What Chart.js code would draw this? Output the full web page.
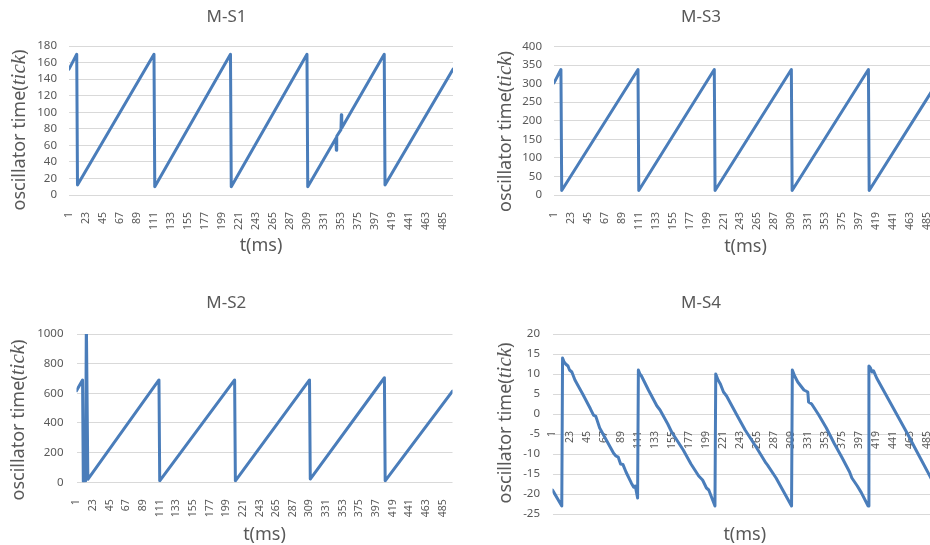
<!DOCTYPE html>
<html>
<head>
<meta charset="utf-8">
<script src="https://cdn.jsdelivr.net/npm/chart.js@4.4.1/dist/chart.umd.min.js"></script>
<style>
  body { margin: 0; width: 930px; height: 545px; overflow: hidden; background: #fff; position: relative; }
  canvas { position: absolute; }
</style>
</head>
<body>
<canvas id="ms1" width="465" height="272" style="left:0;top:0;width:465px;height:272px"></canvas>
<canvas id="ms3" width="480" height="272" style="left:465px;top:0;width:480px;height:272px"></canvas>
<canvas id="ms2" width="465" height="273" style="left:0;top:272px;width:465px;height:273px"></canvas>
<canvas id="ms4" width="480" height="273" style="left:465px;top:272px;width:480px;height:273px"></canvas>
<script>
// tick labels on the time axis
const timeTicks = [1, 23, 45, 67, 89, 111, 133, 155, 177, 199, 221, 243, 265, 287, 309, 331, 353, 375, 397, 419, 441, 463, 485];

// M-S1 (corners of the sawtooth + the glitch near 350 ms)
const s1Time = [1, 11, 12, 111, 112, 210, 211, 309, 310, 346.5, 347, 347.5, 353, 353.5, 354, 409, 410, 498];
const s1Tick = [152, 170, 12, 170, 10, 170, 10, 170, 10, 68.5, 54, 71, 79, 97, 81, 170, 12, 152];

// M-S3
const s3Time = [1, 10, 11, 110, 111, 209, 210, 309, 310, 409, 410, 498];
const s3Tick = [302, 338, 12, 338, 12, 338, 12, 338, 12, 338, 12, 302];

// M-S2 (spike at the start goes past the top of the axis)
const s2Time = [1, 9, 10, 13, 14, 16, 110, 111, 210, 211, 309, 310, 408, 409, 498];
const s2Tick = [618, 690, 5, 8, 1100, 20, 690, 10, 690, 10, 690, 22, 705, 10, 615];

// M-S4 (falling sawtooth, small steps along each ramp)
const s4Time = [1, 13, 14, 16, 18, 21, 23, 26, 30, 40, 50, 54, 57, 62, 70, 80, 83, 86, 89, 92, 96, 103, 106, 108, 111,
  112, 114, 116, 125, 136, 140, 150, 155, 160, 170, 180, 185, 190, 195, 200, 203, 211,
  212, 215, 218, 222, 226, 240, 250, 265, 277, 279, 290, 300, 310,
  311, 314, 318, 322, 326, 331, 332, 336, 345, 355, 365, 375, 385, 388, 395, 400, 409,
  410, 412, 414, 416, 420, 430, 440, 450, 460, 470, 480, 489, 498];
const s4Tick = [-19, -23, 14, 13, 12.5, 12, 11, 10.5, 8.5, 5, 1.3, -0.3, -0.6, -3.5, -6.3, -9.8, -10.5, -10.8, -12.5, -12.6, -14.5, -17.3, -18.3, -18, -21,
  11, 10, 9.5, 6, 2, 1, -2.5, -4.5, -6, -9, -12.5, -14, -15.5, -16.5, -18.5, -19, -23,
  10, 8.5, 7.5, 5.5, 4.5, -0.5, -4, -8.5, -12.3, -12.8, -16, -19.5, -23,
  11, 9.5, 8, 7, 6, 5.5, 3, 2.5, -0.2, -3.5, -7.3, -10.8, -14.5, -16, -18, -19.6, -23,
  12, 11.5, 10.5, 10.8, 9, 5.5, 2, -1.5, -5, -8.7, -12.3, -15.6, -19];

Chart.defaults.font.family = "'Noto Sans', sans-serif";
Chart.defaults.color = "#595959";

const lineColor = "#4a7dba";
const textColor = "#595959";

// axis titles drawn by hand so "tick" can be italic
const axisText = {
  id: "axisText",
  afterDraw(chart, args, o) {
    const ctx = chart.ctx;
    const a = chart.chartArea;
    ctx.save();
    ctx.fillStyle = textColor;
    ctx.textAlign = "center";
    ctx.textBaseline = "middle";
    ctx.font = "18px 'Noto Sans'";
    ctx.fillText("t(ms)", (a.left + a.right) / 2, o.xY);

    const parts = [
      ["oscillator time(", "18px 'Noto Sans'"],
      ["tick", "italic 21px 'Liberation Serif'"],
      [")", "18px 'Noto Sans'"],
    ];
    let total = 0;
    parts.forEach((p) => { ctx.font = p[1]; total += ctx.measureText(p[0]).width; });
    ctx.translate(o.yX, o.yY);
    ctx.rotate(-Math.PI / 2);
    ctx.textAlign = "left";
    ctx.textBaseline = "alphabetic";
    let x = -total / 2;
    parts.forEach((p) => {
      ctx.font = p[1];
      ctx.fillText(p[0], x, 0);
      x += ctx.measureText(p[0]).width;
    });
    ctx.restore();
  },
};

function panel(id, title, times, values, yMin, yMax, yStep, box) {
  const xScale = {
    type: "linear",
    min: 1,
    max: 498,
    grid: { display: false },
    border: { display: false },
    afterBuildTicks: (scale) => { scale.ticks = timeTicks.map((v) => ({ value: v })); },
    afterFit: (scale) => {
      scale.height = box.xHeight;
      scale.paddingLeft = 0;
      scale.paddingRight = 0;
    },
    ticks: {
      autoSkip: false,
      minRotation: 90,
      maxRotation: 90,
      padding: 9,
      color: textColor,
      font: { size: 10.5 },
      callback: (v) => String(v),
    },
  };
  if (box.xAtZero) xScale.position = { y: 0 };

  return new Chart(document.getElementById(id), {
    type: "line",
    data: {
      datasets: [
        {
          data: times.map((t, i) => ({ x: t, y: values[i] })),
          borderColor: lineColor,
          borderWidth: 3,
          pointRadius: 0,
          tension: 0,
          borderJoinStyle: "round",
          borderCapStyle: "round",
        },
      ],
    },
    options: {
      responsive: false,
      animation: false,
      layout: { padding: { left: 0, right: box.right, top: 0, bottom: box.bottom || 0 } },
      plugins: {
        legend: { display: false },
        tooltip: { enabled: false },
        title: {
          display: true,
          text: title,
          color: textColor,
          font: { size: 17, weight: "normal" },
          padding: { top: box.titleTop, bottom: box.titleBottom },
        },
        axisText: { xY: box.xY, yX: box.yX, yY: box.yY },
      },
      scales: {
        x: xScale,
        y: {
          min: yMin,
          max: yMax,
          grid: { color: "#d9d9d9", drawTicks: false },
          border: { display: false },
          afterFit: (scale) => {
            scale.width = box.yWidth;
            scale.paddingTop = 0;
            scale.paddingBottom = 0;
          },
          ticks: {
            stepSize: yStep,
            autoSkip: false,
            padding: box.yPad,
            color: textColor,
            font: { size: 11.5 },
            callback: (v) => String(v),
          },
        },
      },
    },
    plugins: [axisText],
  });
}

panel("ms1", "M-S1", s1Time, s1Tick, 0, 180, 20,
  { yWidth: 69, right: 12, xHeight: 77, titleTop: 6.8, titleBottom: 18.8, yPad: 12, xY: 246, yX: 25, yY: 130 });
panel("ms3", "M-S3", s3Time, s3Tick, 0, 400, 50,
  { yWidth: 89, right: 8, xHeight: 77, titleTop: 6.8, titleBottom: 19.3, yPad: 12, xY: 246.5, yX: 46, yY: 131.5 });
panel("ms2", "M-S2", s2Time, s2Tick, 0, 1000, 200,
  { yWidth: 76.5, right: 12.5, xHeight: 62.7, titleTop: 20.8, titleBottom: 20.8, yPad: 13, xY: 263, yX: 24, yY: 148 });
panel("ms4", "M-S4", s4Time, s4Tick, -25, 20, 5,
  { yWidth: 87.5, right: 8, xHeight: 31, bottom: 31, xAtZero: true, titleTop: 20.8, titleBottom: 20.8, yPad: 12.5, xY: 263, yX: 46, yY: 151 });
</script>
</body>
</html>
